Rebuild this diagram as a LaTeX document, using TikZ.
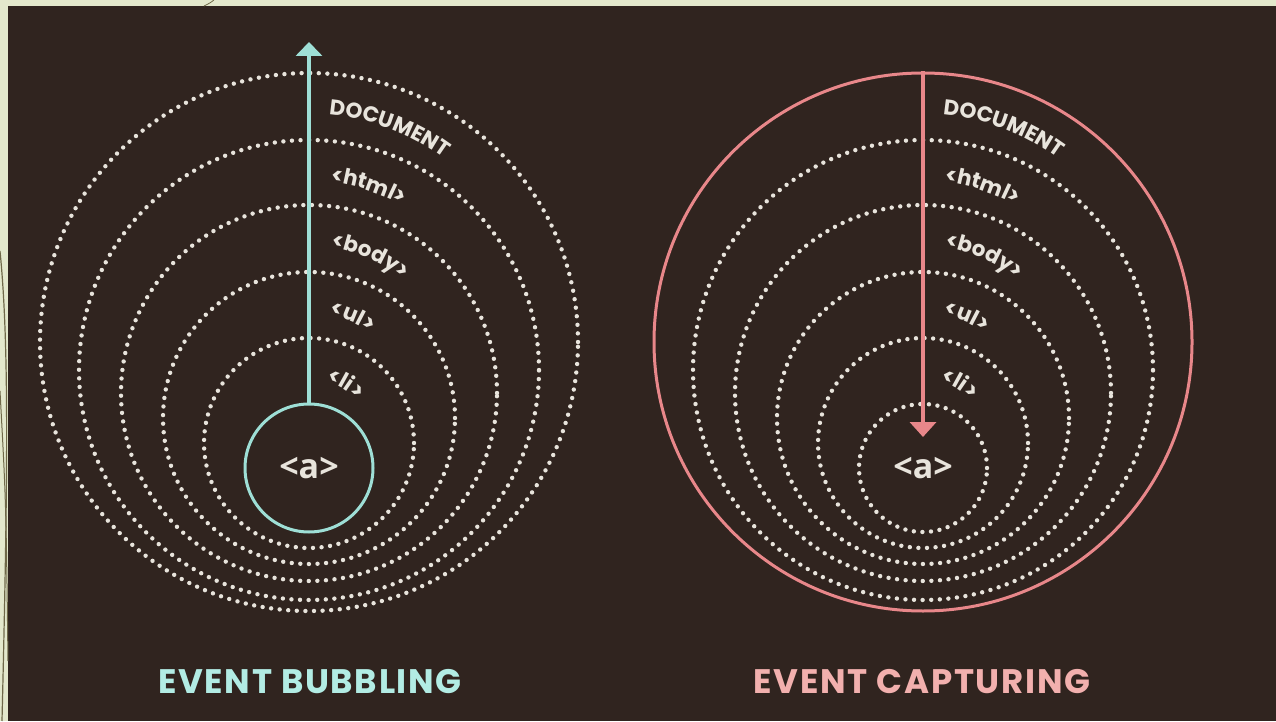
\documentclass[tikz,border=0pt]{standalone}
\usepackage{fontspec}
\setmainfont{Poppins}
\newfontfamily\tagfont{Open Sans}
\definecolor{evboard}{HTML}{30241F}
\definecolor{evpaper}{HTML}{E3E8CC}
\definecolor{evolive}{HTML}{6E6848}
\definecolor{evdot}{HTML}{E8E4DC}
\definecolor{evcyan}{HTML}{9EDFD6}
\definecolor{evcyantxt}{HTML}{B2ECE4}
\definecolor{evpink}{HTML}{E8878A}
\definecolor{evpinktxt}{HTML}{F2B0AE}
\usetikzlibrary{arrows.meta,decorations.text}
\newcommand{\ringfont}{\bfseries\fontsize{21.5}{21.5}\selectfont\color{evdot}}

\begin{document}
\begin{tikzpicture}[x=1pt,y=1pt,
 ringdots/.style={draw=evdot,line width=4.4pt,line cap=round,dash pattern=on 0pt off 8.6pt},
 ringnode/.style={circle,inner sep=0pt,font=\tagfont\bfseries\fontsize{34}{34}\selectfont,text=evdot},
 bubarr/.style={-{Triangle[length=14pt,width=26pt]},draw=evcyan,line width=4pt},
 caparr/.style={-{Triangle[length=15pt,width=26pt]},draw=evpink,line width=4pt},
 title/.style={anchor=base,font=\bfseries\fontsize{34}{34}\selectfont\addfontfeature{LetterSpace=5}}]
\useasboundingbox (0,0) rectangle (1276,721);
\fill[evpaper] (0,0) rectangle (1276,721);
\fill[evboard] (8,0) rectangle (1276,715);
\draw[evolive,line width=1.2pt] (0,470) .. controls (9,380) and (8,250) .. (2,0);
\draw[evolive,line width=1pt] (0,330) .. controls (6,220) .. (8,60);
\draw[evolive,line width=0.8pt] (204,715) .. controls (210,718) .. (214,721);
% dotted rings
\foreach \r/\cy in {269/379,230/351,188/328,146/303,105/278}
  \draw[ringdots] (309,\cy) circle[radius=\r];
\foreach \r/\cy in {230/351,188/328,146/303,105/278,64/253}
  \draw[ringdots] (923,\cy) circle[radius=\r];
% curved labels
\foreach \cx in {309,923}
  \foreach \r/\cy/\ang/\lbl in {269/379/85/DOCUMENT,230/351/83.5/{<html>},
      188/328/81.5/{<body>},146/303/78.5/{<ul>},105/278/74.5/{<li>}}
    \path[decorate,decoration={text along path,text align=left,
      text/.expanded={|\noexpand\ringfont|\lbl}}]
      (\cx,\cy) ++(\ang:{\r-41}) arc[start angle=\ang,end angle=5,radius=\r-41];
\node[ringnode,draw=evcyan,line width=3pt,minimum size=128pt] (abub) at (309,253) {<a>};
\node[ringnode] (acap) at (923,253) {<a>};
\node[circle,draw=evpink,line width=3pt,minimum size=538pt] (doccap) at (923,379) {};
\coordinate (bubtop) at (309,679);
\coordinate (captip) at (923,284);
\draw[bubarr] (abub.north) -- (bubtop);
\draw[caparr] (doccap.north) -- (captip);
\node[title,text=evcyantxt] (bubtitle) at (310,28) {EVENT BUBBLING};
\node[title,text=evpinktxt] (captitle) at (922,28) {EVENT CAPTURING};
\end{tikzpicture}
\end{document}
